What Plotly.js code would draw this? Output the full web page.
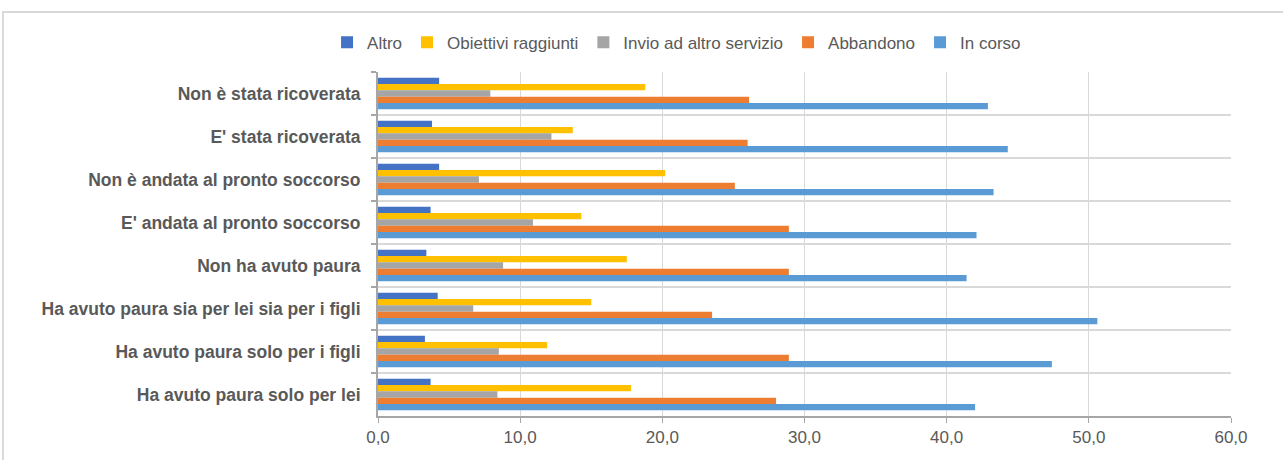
<!DOCTYPE html>
<html>
<head>
<meta charset="utf-8">
<script src="https://cdn.plot.ly/plotly-3.0.1.min.js"></script>
<style>
  html, body { margin: 0; padding: 0; background: #ffffff; }
  #chart { width: 1283px; height: 460px; }
</style>
</head>
<body>
<div id="chart"></div>
<script>
// Categories, listed top to bottom
const categories = [
  "Non è stata ricoverata",
  "E' stata ricoverata",
  "Non è andata al pronto soccorso",
  "E' andata al pronto soccorso",
  "Non ha avuto paura",
  "Ha avuto paura sia per lei sia per i figli",
  "Ha avuto paura solo per i figli",
  "Ha avuto paura solo per lei"
];

// Percent values per outcome
const altro      = [4.3, 3.8, 4.3, 3.7, 3.4, 4.2, 3.3, 3.7];
const obiettivi  = [18.8, 13.7, 20.2, 14.3, 17.5, 15.0, 11.9, 17.8];
const invio      = [7.9, 12.2, 7.1, 10.9, 8.8, 6.7, 8.5, 8.4];
const abbandono  = [26.1, 26.0, 25.1, 28.9, 28.9, 23.5, 28.9, 28.0];
const inCorso    = [42.9, 44.3, 43.3, 42.1, 41.4, 50.6, 47.4, 42.0];

const seriesNames = ["Altro", "Obiettivi raggiunti", "Invio ad altro servizio", "Abbandono", "In corso"];
const seriesValues = [altro, obiettivi, invio, abbandono, inCorso];
const seriesColors = ["#4472C4", "#FFC000", "#A5A5A5", "#ED7D31", "#5B9BD5"];

const xTicks = [0, 10, 20, 30, 40, 50, 60];

const sans = '"Liberation Sans Narrow", "Arial Narrow", "Liberation Sans", Arial, sans-serif';
const textGray = "#595959";

const traces = seriesNames.map((name, i) => ({
  type: "bar",
  orientation: "h",
  name: name,
  y: categories,
  x: seriesValues[i],
  marker: { color: seriesColors[i], line: { width: 0 } },
  hoverinfo: "x+name"
}));

const layout = {
  width: 1283,
  height: 460,
  paper_bgcolor: "#ffffff",
  plot_bgcolor: "#ffffff",
  separators: ",.",
  margin: { l: 378, r: 52, t: 72, b: 44, pad: 0 },
  barmode: "group",
  bargap: 0.27,
  bargroupgap: 0,
  showlegend: true,
  legend: {
    orientation: "h",
    x: 0.35,
    xanchor: "center",
    y: 1.085,
    yanchor: "middle",
    font: { family: sans, size: 17, color: textGray },
    itemwidth: 30,
    traceorder: "normal"
  },
  xaxis: {
    range: [0, 60],
    tickvals: xTicks,
    tickformat: ".1f",
    showgrid: true,
    gridcolor: "#D9D9D9",
    gridwidth: 1,
    zeroline: false,
    showline: true,
    linecolor: "#A6A6A6",
    linewidth: 2,
    ticks: "outside",
    ticklen: 5,
    tickcolor: "#A6A6A6",
    tickwidth: 1,
    tickfont: { family: sans, size: 17, color: textGray },
    fixedrange: true
  },
  yaxis: {
    autorange: "reversed",
    type: "category",
    tickson: "boundaries",
    showgrid: true,
    gridcolor: "#D9D9D9",
    gridwidth: 2,
    showline: true,
    linecolor: "#A6A6A6",
    linewidth: 2,
    ticks: "outside",
    ticklen: 5,
    tickcolor: "#A6A6A6",
    tickwidth: 2,
    ticklabelstandoff: 12,
    tickfont: { family: sans, size: 17.5, color: textGray, weight: "bold" },
    fixedrange: true
  },
  shapes: [
    {
      // light frame around the chart area
      type: "rect",
      xref: "paper", yref: "paper",
      x0: -0.4397, x1: 1.2,
      y0: -0.3, y1: 1.1744,
      line: { color: "#D9D9D9", width: 2 },
      fillcolor: "rgba(0,0,0,0)",
      layer: "below"
    }
  ]
};

Plotly.newPlot("chart", traces, layout, { displayModeBar: false, staticPlot: true });
</script>
</body>
</html>
